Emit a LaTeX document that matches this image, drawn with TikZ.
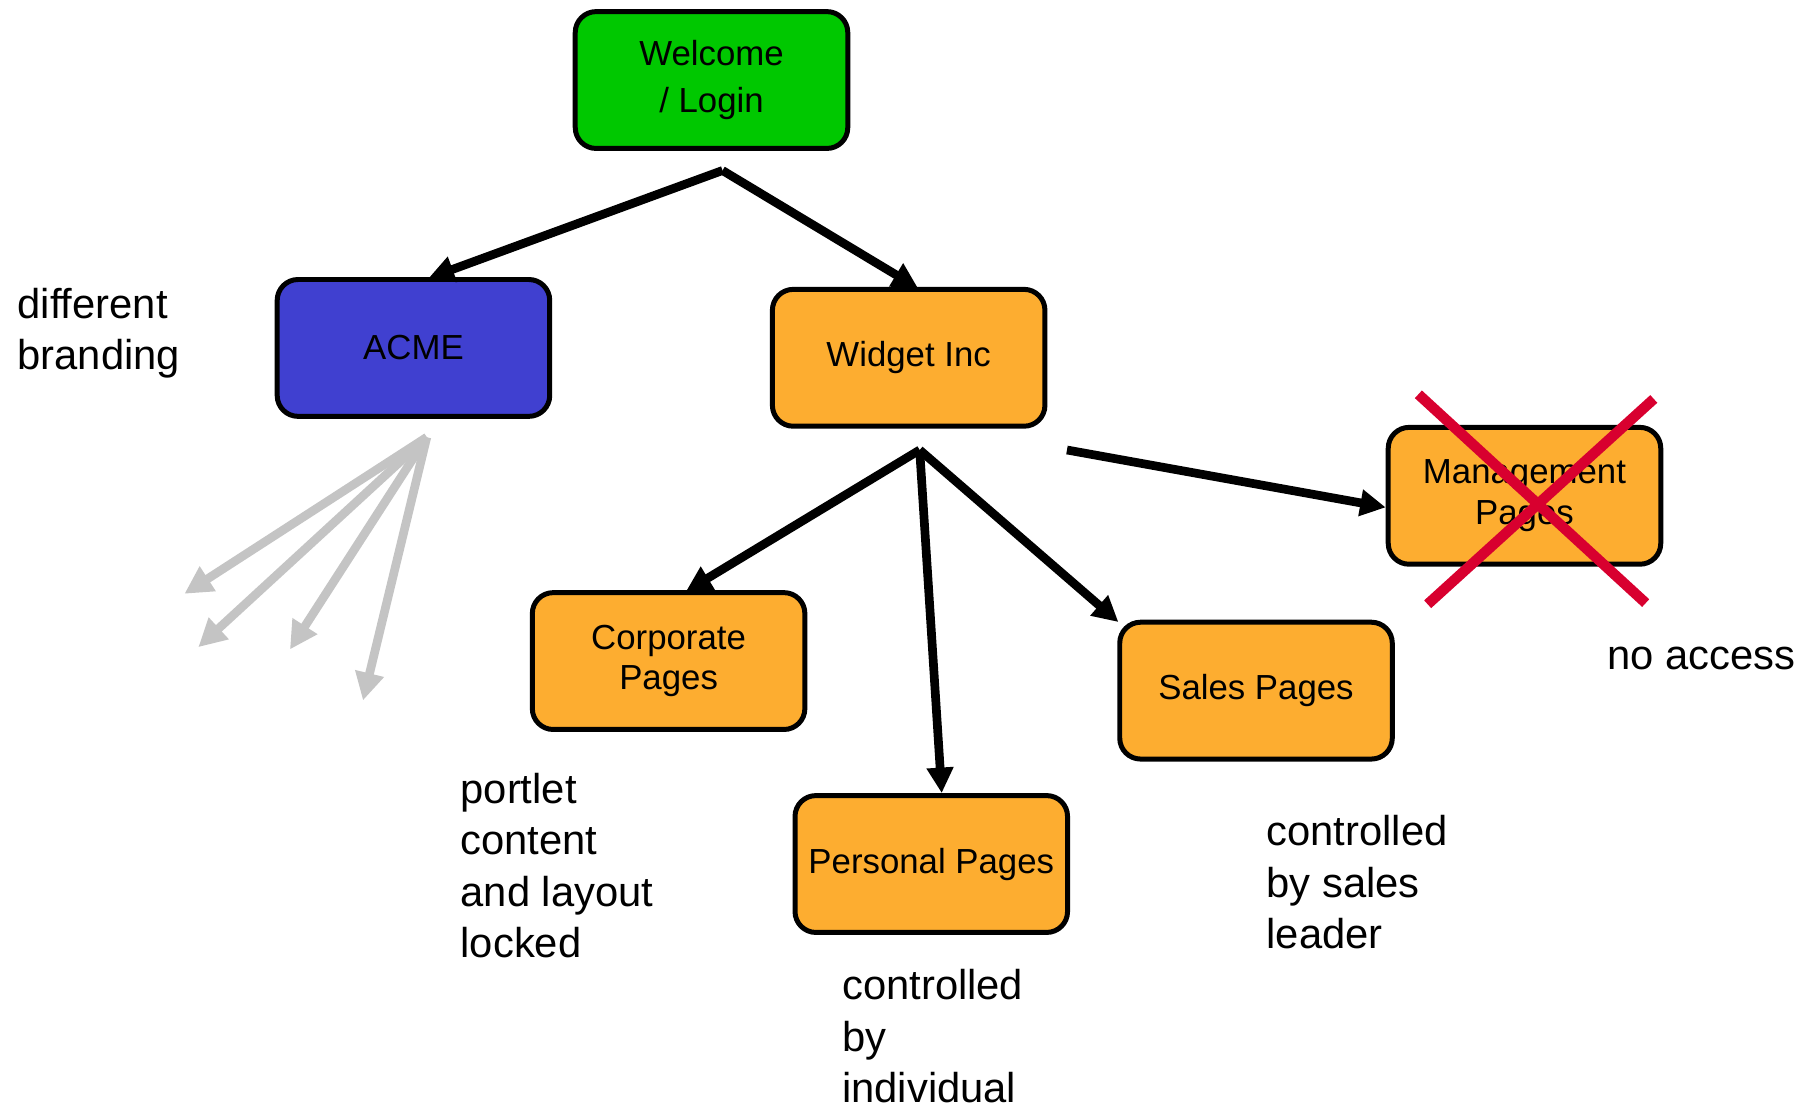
\documentclass[tikz,border=0pt]{standalone}
\usepackage{fontspec}
\setmainfont{Liberation Sans}
\usetikzlibrary{arrows.meta,calc}
\definecolor{boxgreen}{HTML}{00C800}
\definecolor{boxblue}{HTML}{4040D0}
\definecolor{boxorange}{HTML}{FDAD30}
\definecolor{crossred}{HTML}{D8002F}
\definecolor{fangray}{HTML}{C4C4C4}
\tikzset{
  pagebox/.style={draw=black, line width=4.3pt, rounded corners=18pt, minimum width=235pt, minimum height=118pt, align=center, inner sep=0pt, font=\fontsize{30}{35}\selectfont},
  blackarrow/.style={line width=7.5pt, -{Triangle[length=22pt,width=22pt]}},
  grayarrow/.style={draw=fangray, line width=7.5pt, -{Triangle[length=24pt,width=24pt]}},
  notetext/.style={anchor=base west, align=left, inner sep=0pt, font=\fontsize{36}{44.5}\selectfont},
  crossline/.style={draw=crossred, line width=9pt}
}
\begin{document}
\begin{tikzpicture}[x=1pt,y=-1pt]
\useasboundingbox (0,0) rectangle (1565,953);
% boxes
\node[pagebox, fill=boxgreen, font=\fontsize{30}{41}\selectfont] (welcome) at (613.5,69) {Welcome\\/ Login};
\node[pagebox, fill=boxblue] (acme) at (356.5,300) {ACME};
\node[pagebox, fill=boxorange] (widget) at (783.5,308.5) {Widget Inc};
\node[pagebox, fill=boxorange] (mgmt) at (1314.5,427.5) {Management\\Pages};
\node[pagebox, fill=boxorange] (corp) at (576.5,570) {Corporate\\Pages};
\node[pagebox, fill=boxorange] (sales) at (1083,595.5) {Sales Pages};
\node[pagebox, fill=boxorange] (pers) at (803,745) {Personal Pages};
% source points
\coordinate (wsrc) at (623,147);
\coordinate (widsrc) at (793,388);
\coordinate (msrc) at (920,388);
\coordinate (gsrc) at (368,377);
\coordinate (g1) at (159,512);
\coordinate (g2) at (171,558);
\coordinate (g3) at (250,560);
\coordinate (g4) at (313,604);
% arrows
\draw[blackarrow] (wsrc) -- ($(acme.north)+(13,1)$);
\draw[blackarrow] (wsrc) -- ($(widget.north)+(8,1)$);
\draw[blackarrow] (widsrc) -- ($(corp.north)+(15,1)$);
\draw[blackarrow] (widsrc) -- ($(pers.north)+(9,0)$);
\draw[blackarrow] (widsrc) -- ($(sales.north west)+(1,2)$);
\draw[blackarrow] (msrc) -- ($(mgmt.west)+(0,10)$);
\draw[grayarrow] (gsrc) -- (g1);
\draw[grayarrow] (gsrc) -- (g2);
\draw[grayarrow] (gsrc) -- (g3);
\draw[grayarrow] (gsrc) -- (g4);
% red cross
\coordinate (x1a) at (1223,340);
\coordinate (x1b) at (1419,520);
\coordinate (x2a) at (1426,344);
\coordinate (x2b) at (1231,521);
\draw[crossline] (x1a) -- (x1b);
\draw[crossline] (x2a) -- (x2b);
% notes (anchored at the baseline of the last line)
\node[notetext] (nbrand) at (15,319) {different\\branding};
\node[notetext] (nportlet) at (397,826) {portlet\\content\\and layout\\locked};
\node[notetext] (nindiv) at (726,951) {controlled\\by\\individual};
\node[notetext] (nsales) at (1092,818) {controlled\\by sales\\leader};
\node[notetext] (naccess) at (1386,577) {no access};
\end{tikzpicture}
\end{document}
